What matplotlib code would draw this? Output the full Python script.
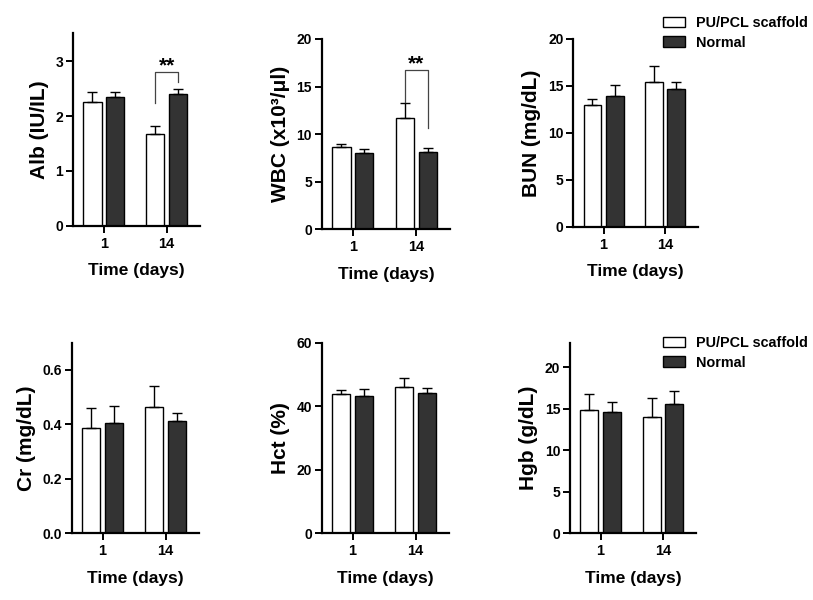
import numpy as np
import matplotlib.pyplot as plt

plt.rcParams['font.family'] = ['Liberation Sans', 'DejaVu Sans']
plt.rcParams['font.weight'] = 'bold'

days = ['1', '14']
groups = ['PU/PCL scaffold', 'Normal']

# mean and SD (upper error) per panel, [day1, day14]
alb_pu = [2.26, 1.67];   alb_pu_err = [0.18, 0.15]
alb_no = [2.35, 2.41];   alb_no_err = [0.09, 0.08]
wbc_pu = [8.6, 11.7];    wbc_pu_err = [0.35, 1.55]
wbc_no = [8.0, 8.1];     wbc_no_err = [0.4, 0.4]
bun_pu = [13.0, 15.4];   bun_pu_err = [0.6, 1.7]
bun_no = [13.9, 14.7];   bun_no_err = [1.15, 0.7]
cr_pu = [0.388, 0.463];  cr_pu_err = [0.071, 0.078]
cr_no = [0.404, 0.411];  cr_no_err = [0.063, 0.031]
hct_pu = [43.7, 46.2];   hct_pu_err = [1.4, 2.8]
hct_no = [43.3, 44.1];   hct_no_err = [2.0, 1.5]
hgb_pu = [14.85, 14.0];  hgb_pu_err = [1.95, 2.3]
hgb_no = [14.6, 15.6];   hgb_no_err = [1.2, 1.5]

panels = [
    # (pu, pu_err, normal, normal_err, ylabel, ymax, yticks, tick fmt, axes rect)
    (alb_pu, alb_pu_err, alb_no, alb_no_err, 'Alb (IU/IL)', 3.52, [0, 1, 2, 3], '%d',
     [0.0898, 0.6238, 0.1562, 0.3212]),
    (wbc_pu, wbc_pu_err, wbc_no, wbc_no_err, 'WBC (x10³/μl)', 20, [0, 5, 10, 15, 20], '%d',
     [0.3957, 0.6183, 0.1578, 0.3167]),
    (bun_pu, bun_pu_err, bun_no, bun_no_err, 'BUN (mg/dL)', 20, [0, 5, 10, 15, 20], '%d',
     [0.7052, 0.6222, 0.1534, 0.3128]),
    (cr_pu, cr_pu_err, cr_no, cr_no_err, 'Cr (mg/dL)', 0.70, [0.0, 0.2, 0.4, 0.6], '%.1f',
     [0.0882, 0.1112, 0.1566, 0.3177]),
    (hct_pu, hct_pu_err, hct_no, hct_no_err, 'Hct (%)', 60, [0, 20, 40, 60], '%d',
     [0.3957, 0.1112, 0.1566, 0.3177]),
    (hgb_pu, hgb_pu_err, hgb_no, hgb_no_err, 'Hgb (g/dL)', 22.9, [0, 5, 10, 15, 20], '%d',
     [0.7011, 0.1112, 0.1550, 0.3167]),
]

fig = plt.figure(figsize=(8.13, 6.0), dpi=100)
x = np.arange(len(days))
w = 0.29
off = 0.18
axes = []
for pu, pu_err, no, no_err, ylab, ymax, yt, fmt, rect in panels:
    ax = fig.add_axes(rect)
    ax.bar(x - off, pu, w, color='white', edgecolor='black', linewidth=1.0,
           yerr=[np.zeros(2), pu_err], capsize=3.6, error_kw=dict(elinewidth=1.0, capthick=1.0),
           label=groups[0])
    ax.bar(x + off, no, w, color='#333333', edgecolor='black', linewidth=1.0,
           yerr=[np.zeros(2), no_err], capsize=3.6, error_kw=dict(elinewidth=1.0, capthick=1.0),
           label=groups[1])
    ax.set_xlim(-0.49, 1.53)
    ax.set_ylim(0, ymax)
    ax.set_yticks(yt)
    ax.set_yticklabels([fmt % v for v in yt], fontsize=10, fontweight='bold')
    ax.set_xticks(x)
    ax.set_xticklabels(days, fontsize=10.5, fontweight='bold')
    ax.set_xlabel('Time (days)', fontsize=12.5, fontweight='bold', labelpad=9)
    ax.set_ylabel(ylab, fontsize=15, fontweight='bold', labelpad=5)
    for s in ['top', 'right']:
        ax.spines[s].set_visible(False)
    for s in ['left', 'bottom']:
        ax.spines[s].set_linewidth(1.6)
    ax.tick_params(width=1.4, length=5, pad=2)
    ax.tick_params(axis='x', pad=3)
    axes.append(ax)

# significance brackets on day 14
def bracket(ax, y_left, y_right, y_top):
    xl, xr = 1 - off, 1 + off
    ax.plot([xl, xl, xr, xr], [y_left, y_top, y_top, y_right], color='#444444', lw=0.9)
    ax.annotate('**', xy=((xl + xr) / 2, y_top), xytext=(0, 0.8), textcoords='offset points',
                ha='center', va='baseline', fontsize=15, fontweight='bold')

bracket(axes[0], 2.24, 2.63, 2.80)
bracket(axes[1], 13.4, 10.6, 16.7)

# legends beside the right-hand panels (figure coordinates)
for ax, yy in [(axes[2], 1 - 16 / 600), (axes[5], 1 - 336 / 600)]:
    ax.legend(loc='upper left', bbox_to_anchor=(663 / 813, yy), bbox_transform=fig.transFigure,
              frameon=False, prop=dict(size=10.4, weight='bold'), handlelength=1.5,
              handleheight=0.75, labelspacing=0.4, handletextpad=0.8, borderaxespad=0,
              borderpad=0)

fig.savefig('out.png', dpi=100)
